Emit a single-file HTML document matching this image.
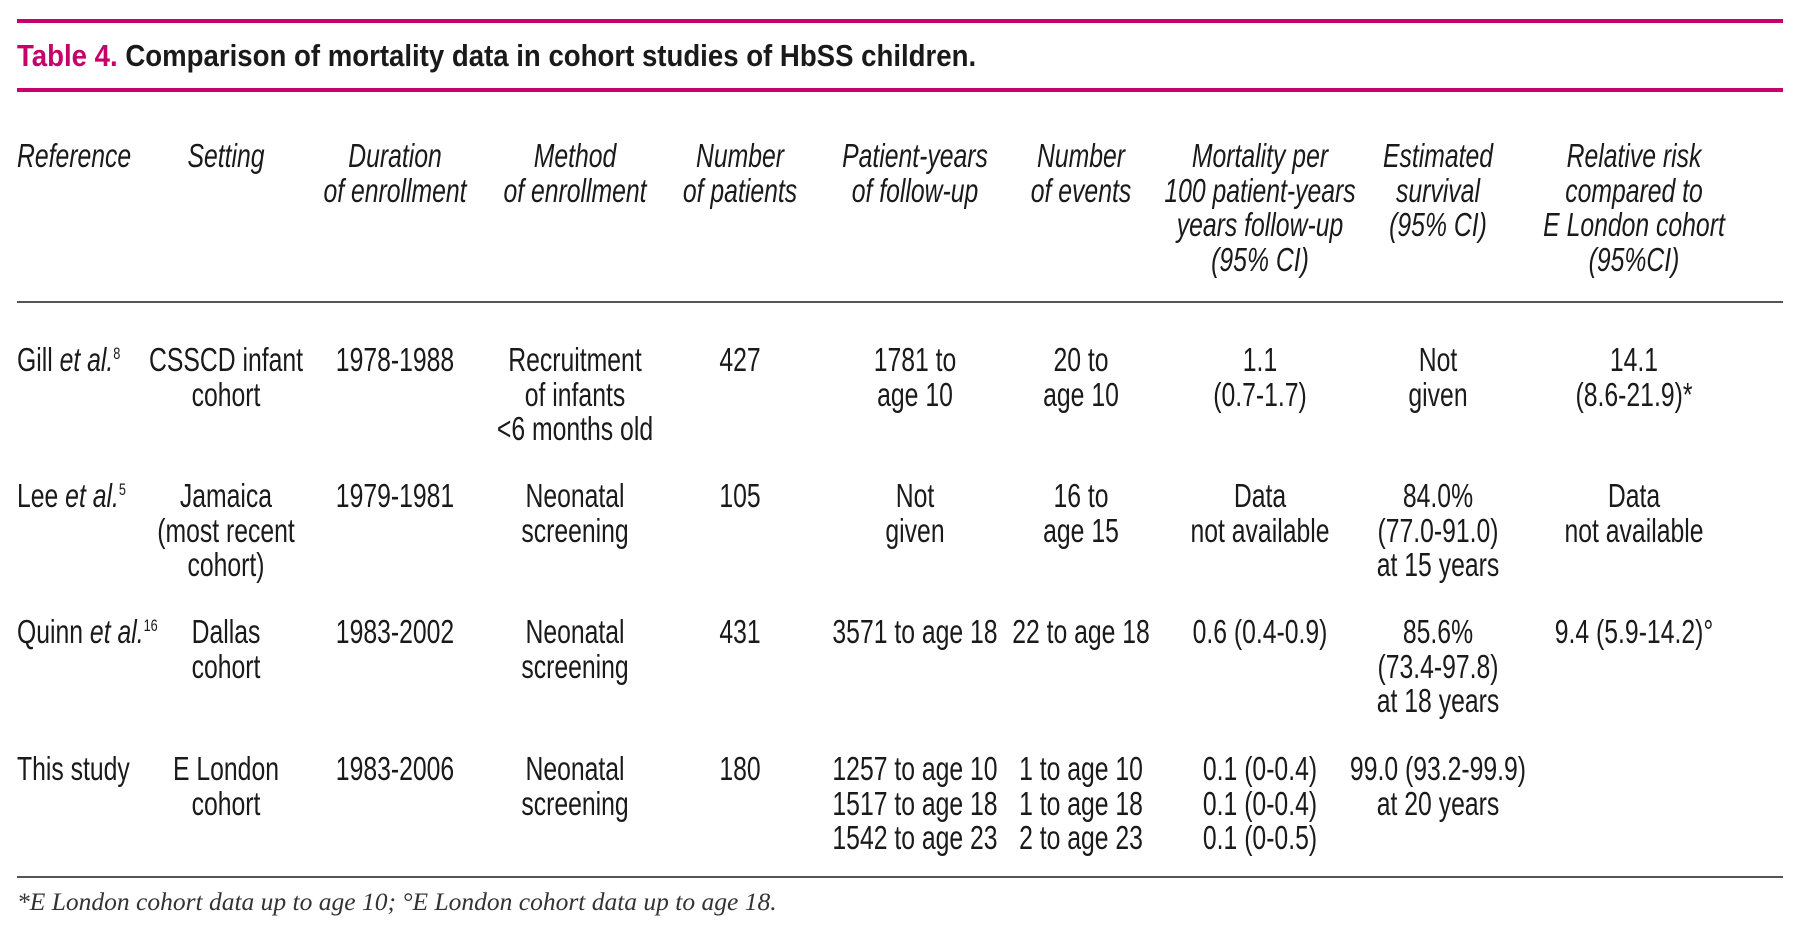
<!DOCTYPE html>
<html><head><meta charset="utf-8"><style>
body{margin:0;background:#fff;width:1800px;height:931px;position:relative;overflow:hidden;font-family:"Liberation Sans",sans-serif;color:#1a1a1a}
.r{position:absolute;left:17px;width:1766px;}
.c{position:absolute;width:320px;text-align:center;font-size:33px;line-height:34.6px;white-space:nowrap;transform:scaleX(.75);transform-origin:center}
.l{text-align:left;transform-origin:left}
.h{font-style:italic}
sup{font-size:17px;vertical-align:12px;line-height:0}
</style></head><body>
<div class="r" style="top:19px;height:4px;background:#c8006a"></div>
<div style="position:absolute;left:17px;top:37px;font-size:31px;font-weight:bold;line-height:38px;white-space:nowrap;transform:scaleX(.89);transform-origin:left"><span style="color:#c8006a">Table 4.</span> Comparison of mortality data in cohort studies of HbSS children.</div>
<div class="r" style="top:88px;height:4px;background:#c8006a"></div>

<div class="c h l" style="left:17px;top:139px">Reference</div>
<div class="c h" style="left:66px;top:139px">Setting</div>
<div class="c h" style="left:235px;top:139px">Duration<br>of enrollment</div>
<div class="c h" style="left:415px;top:139px">Method<br>of enrollment</div>
<div class="c h" style="left:580px;top:139px">Number<br>of patients</div>
<div class="c h" style="left:755px;top:139px">Patient-years<br>of follow-up</div>
<div class="c h" style="left:921px;top:139px">Number<br>of events</div>
<div class="c h" style="left:1100px;top:139px">Mortality per<br>100 patient-years<br>years follow-up<br>(95% CI)</div>
<div class="c h" style="left:1278px;top:139px">Estimated<br>survival<br>(95% CI)</div>
<div class="c h" style="left:1474px;top:139px">Relative risk<br>compared to<br>E London cohort<br>(95%CI)</div>

<div class="r" style="top:301px;height:2px;background:#555"></div>

<div class="c l" style="left:17px;top:343px">Gill <i>et al.</i><sup>8</sup></div>
<div class="c" style="left:66px;top:343px">CSSCD infant<br>cohort</div>
<div class="c" style="left:235px;top:343px">1978-1988</div>
<div class="c" style="left:415px;top:343px">Recruitment<br>of infants<br>&lt;6 months old</div>
<div class="c" style="left:580px;top:343px">427</div>
<div class="c" style="left:755px;top:343px">1781 to<br>age 10</div>
<div class="c" style="left:921px;top:343px">20 to<br>age 10</div>
<div class="c" style="left:1100px;top:343px">1.1<br>(0.7-1.7)</div>
<div class="c" style="left:1278px;top:343px">Not<br>given</div>
<div class="c" style="left:1474px;top:343px">14.1<br>(8.6-21.9)*</div>

<div class="c l" style="left:17px;top:479px">Lee <i>et al.</i><sup>5</sup></div>
<div class="c" style="left:66px;top:479px">Jamaica<br>(most recent<br>cohort)</div>
<div class="c" style="left:235px;top:479px">1979-1981</div>
<div class="c" style="left:415px;top:479px">Neonatal<br>screening</div>
<div class="c" style="left:580px;top:479px">105</div>
<div class="c" style="left:755px;top:479px">Not<br>given</div>
<div class="c" style="left:921px;top:479px">16 to<br>age 15</div>
<div class="c" style="left:1100px;top:479px">Data<br>not available</div>
<div class="c" style="left:1278px;top:479px">84.0%<br>(77.0-91.0)<br>at 15 years</div>
<div class="c" style="left:1474px;top:479px">Data<br>not available</div>

<div class="c l" style="left:17px;top:615px">Quinn <i>et al.</i><sup>16</sup></div>
<div class="c" style="left:66px;top:615px">Dallas<br>cohort</div>
<div class="c" style="left:235px;top:615px">1983-2002</div>
<div class="c" style="left:415px;top:615px">Neonatal<br>screening</div>
<div class="c" style="left:580px;top:615px">431</div>
<div class="c" style="left:755px;top:615px">3571 to age 18</div>
<div class="c" style="left:921px;top:615px">22 to age 18</div>
<div class="c" style="left:1100px;top:615px">0.6 (0.4-0.9)</div>
<div class="c" style="left:1278px;top:615px">85.6%<br>(73.4-97.8)<br>at 18 years</div>
<div class="c" style="left:1474px;top:615px">9.4 (5.9-14.2)°</div>

<div class="c l" style="left:17px;top:752px">This study</div>
<div class="c" style="left:66px;top:752px">E London<br>cohort</div>
<div class="c" style="left:235px;top:752px">1983-2006</div>
<div class="c" style="left:415px;top:752px">Neonatal<br>screening</div>
<div class="c" style="left:580px;top:752px">180</div>
<div class="c" style="left:755px;top:752px">1257 to age 10<br>1517 to age 18<br>1542 to age 23</div>
<div class="c" style="left:921px;top:752px">1 to age 10<br>1 to age 18<br>2 to age 23</div>
<div class="c" style="left:1100px;top:752px">0.1 (0-0.4)<br>0.1 (0-0.4)<br>0.1 (0-0.5)</div>
<div class="c" style="left:1278px;top:752px">99.0 (93.2-99.9)<br>at 20 years</div>

<div class="r" style="top:876px;height:2px;background:#555"></div>
<div style="position:absolute;left:17px;top:887px;font-family:'Liberation Serif',serif;font-style:italic;font-size:25.5px;line-height:30px;white-space:nowrap;color:#333">*E London cohort data up to age 10; °E London cohort data up to age 18.</div>
</body></html>
